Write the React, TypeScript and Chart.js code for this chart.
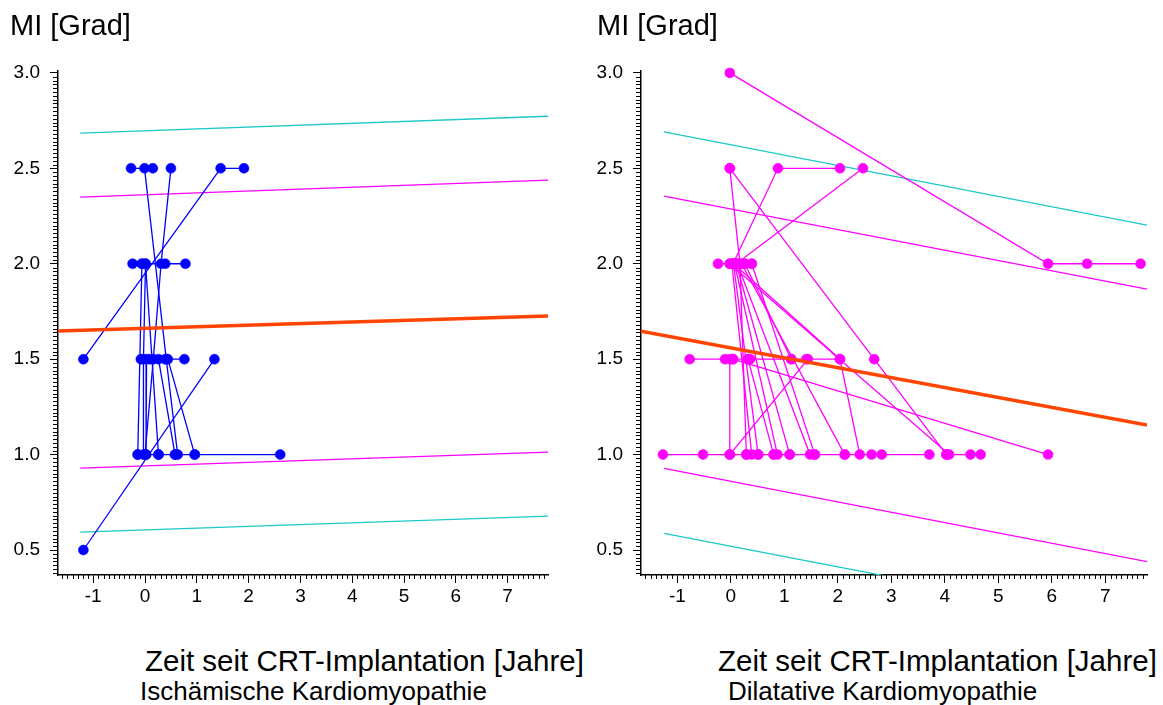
import React, { useEffect, useRef } from 'react';
import { Chart, registerables } from 'chart.js';

Chart.register(...registerables);

type P = [number, number];

const xTicks = [-1, 0, 1, 2, 3, 4, 5, 6, 7];
const yTicks = [0.5, 1.0, 1.5, 2.0, 2.5, 3.0];
const xMin = -1.68;
const xMax = 7.78;
const yMin = 0.369;
const yMax = 3.01;

const yAxisTitle = 'MI [Grad]';
const xAxisTitle = 'Zeit seit CRT-Implantation [Jahre]';
const leftGroup = 'Ischämische Kardiomyopathie';
const rightGroup = 'Dilatative Kardiomyopathie';

// Ischämische Kardiomyopathie: individual patient trajectories
const ischTrajectories: P[][] = [
  [[-0.27, 2.5], [0.15, 2.5]],
  [[-0.01, 2.5], [0.41, 1.5], [0.63, 1.0]],
  [[0.0, 1.0], [0.16, 1.5], [0.31, 2.0], [0.5, 2.5]],
  [[-1.19, 1.5], [1.46, 2.5], [1.91, 2.5]],
  [[-0.24, 2.0], [-0.06, 2.0], [0.39, 2.0], [0.78, 2.0]],
  [[-0.06, 2.0], [-0.14, 1.0]],
  [[0.01, 2.0], [-0.03, 1.5], [-0.03, 1.0]],
  [[0.01, 2.0], [0.26, 1.0]],
  [[-0.08, 1.5], [0.1, 1.5], [0.39, 1.5], [0.76, 1.5]],
  [[0.44, 1.5], [0.96, 1.0], [2.61, 1.0]],
  [[-0.14, 1.0], [0.02, 1.0], [0.26, 1.0], [0.58, 1.0], [0.96, 1.0]],
  [[-1.19, 0.5], [1.34, 1.5]],
  [[0.03, 1.5], [0.02, 1.0]],
  [[0.26, 1.5], [0.58, 1.0]],
];
const ischFit: P[] = [[-1.68, 1.647], [7.78, 1.726]];
const ischOuterUpper: P[] = [[-1.25, 2.684], [7.78, 2.773]];
const ischInnerUpper: P[] = [[-1.25, 2.349], [7.78, 2.438]];
const ischInnerLower: P[] = [[-1.25, 0.929], [7.78, 1.013]];
const ischOuterLower: P[] = [[-1.25, 0.594], [7.78, 0.678]];

// Dilatative Kardiomyopathie: individual patient trajectories
const dilTrajectories: P[][] = [
  [[-0.02, 3.0], [5.93, 2.0], [6.66, 2.0], [7.66, 2.0]],
  [[-0.02, 2.5], [2.68, 1.5], [4.03, 1.0]],
  [[0.04, 2.0], [0.88, 2.5], [2.04, 2.5]],
  [[0.1, 2.0], [2.47, 2.5]],
  [[-0.02, 2.5], [0.17, 2.0], [0.29, 1.0]],
  [[-0.24, 2.0], [-0.02, 2.0], [0.07, 2.0], [0.26, 2.0], [0.39, 2.0]],
  [[-0.02, 2.0], [4.08, 1.0]],
  [[0.02, 2.0], [0.39, 1.0]],
  [[0.05, 2.0], [0.51, 1.0]],
  [[0.07, 2.0], [0.87, 1.0]],
  [[0.1, 2.0], [1.1, 1.0]],
  [[0.12, 2.0], [1.48, 1.0]],
  [[0.2, 2.0], [2.13, 1.0]],
  [[0.26, 2.0], [1.13, 1.5]],
  [[0.05, 2.0], [2.04, 1.5], [2.41, 1.0]],
  [[0.39, 2.0], [1.57, 1.0]],
  [[-0.77, 1.5], [-0.11, 1.5], [0.04, 1.5], [0.32, 1.5], [0.36, 1.5], [1.13, 1.5], [1.41, 1.5], [2.04, 1.5]],
  [[-0.02, 1.5], [-0.02, 1.0], [1.44, 1.5]],
  [[0.04, 1.5], [5.93, 1.0]],
  [[-1.27, 1.0], [-0.52, 1.0], [-0.02, 1.0], [0.29, 1.0], [0.51, 1.0], [0.8, 1.0], [1.1, 1.0], [1.57, 1.0], [2.13, 1.0], [2.63, 1.0], [2.82, 1.0], [3.71, 1.0]],
  [[4.03, 1.0], [4.48, 1.0], [4.67, 1.0]],
  [[0.32, 1.5], [0.8, 1.0]],
];
const dilFit: P[] = [[-1.68, 1.647], [7.78, 1.155]];
const dilOuterUpper: P[] = [[-1.25, 2.691], [7.78, 2.202]];
const dilInnerUpper: P[] = [[-1.25, 2.354], [7.78, 1.867]];
const dilInnerLower: P[] = [[-1.25, 0.928], [7.78, 0.439]];
const dilOuterLower: P[] = [[-1.25, 0.587], [7.78, 0.1]];

const FONT = '"Liberation Sans", Arial, Helvetica, sans-serif';
const ORANGE = '#ff4500';
const CYAN = '#1cc8c8';
const MAGENTA = '#ff00ff';
const BLUE = '#0000ff';

const toXY = (pts: P[]) => pts.map(([x, y]) => ({ x, y }));

const minorTicks = {
  id: 'minorTicks',
  afterDraw(chart: any) {
    const { ctx, chartArea } = chart;
    const xs = chart.scales.x;
    const ys = chart.scales.y;
    ctx.save();
    ctx.strokeStyle = '#000';
    ctx.lineWidth = 1;
    ctx.beginPath();
    for (let i = Math.ceil(xMin * 10); i <= Math.floor(xMax * 10); i++) {
      if (i % 10 === 0) continue;
      const px = Math.round(xs.getPixelForValue(i / 10)) + 0.5;
      ctx.moveTo(px, chartArea.bottom);
      ctx.lineTo(px, chartArea.bottom + 4);
    }
    for (let i = Math.ceil(yMin * 50); i <= Math.floor(yMax * 50); i++) {
      if (i % 25 === 0) continue;
      const py = Math.round(ys.getPixelForValue(i / 50)) + 0.5;
      ctx.moveTo(chartArea.left - 5, py);
      ctx.lineTo(chartArea.left, py);
    }
    ctx.stroke();
    ctx.restore();
  },
};

interface PanelProps {
  trajectories: P[][];
  color: string;
  fit: P[];
  bands: { pts: P[]; color: string }[];
  left: number;
  width: number;
  yAxisWidth: number;
  padRight: number;
}

function Panel({ trajectories, color, fit, bands, left, width, yAxisWidth, padRight }: PanelProps) {
  const ref = useRef<HTMLCanvasElement | null>(null);
  useEffect(() => {
    if (!ref.current) return;
    const datasets: any[] = [];
    datasets.push({
      data: toXY(fit),
      showLine: true,
      borderColor: ORANGE,
      borderWidth: 3.5,
      pointRadius: 0,
    });
    trajectories.forEach((t) =>
      datasets.push({
        data: toXY(t),
        showLine: true,
        borderColor: color,
        borderWidth: 1.3,
        pointRadius: 5,
        pointBackgroundColor: color,
        pointBorderColor: color,
        pointBorderWidth: 0.5,
        clip: false,
      })
    );
    bands.forEach((b) =>
      datasets.push({
        data: toXY(b.pts),
        showLine: true,
        borderColor: b.color,
        borderWidth: 1.3,
        pointRadius: 0,
      })
    );
    const tickFont = { family: FONT, size: 19 };
    const chart = new Chart(ref.current, {
      type: 'scatter',
      data: { datasets },
      plugins: [minorTicks],
      options: {
        animation: false,
        responsive: false,
        events: [],
        layout: { padding: { top: 71, right: padRight, left: 0, bottom: 0 } },
        plugins: { legend: { display: false }, tooltip: { enabled: false }, title: { display: false } },
        scales: {
          x: {
            type: 'linear',
            min: xMin,
            max: xMax,
            afterBuildTicks: (s: any) => {
              s.ticks = xTicks.map((v) => ({ value: v }));
            },
            afterFit: (s: any) => {
              s.height = 45;
            },
            ticks: {
              font: tickFont,
              color: '#000',
              padding: 2,
              autoSkip: false,
              maxRotation: 0,
              callback: (v: any) => String(v),
            },
            grid: { drawOnChartArea: false, drawTicks: true, tickLength: 8, color: '#000', lineWidth: 1 },
            border: { display: true, color: '#000', width: 1.5 },
          },
          y: {
            type: 'linear',
            min: yMin,
            max: yMax,
            afterBuildTicks: (s: any) => {
              s.ticks = yTicks.map((v) => ({ value: v }));
            },
            afterFit: (s: any) => {
              s.width = yAxisWidth;
            },
            ticks: {
              font: tickFont,
              color: '#000',
              padding: 10,
              autoSkip: false,
              callback: (v: any) => Number(v).toFixed(1),
            },
            grid: { drawOnChartArea: false, drawTicks: true, tickLength: 8, color: '#000', lineWidth: 1 },
            border: { display: true, color: '#000', width: 1.5 },
          },
        },
      } as any,
    });
    return () => chart.destroy();
  }, []);
  return (
    <canvas
      ref={ref}
      width={width}
      height={620}
      style={{ position: 'absolute', left, top: 0, width, height: 620 }}
    />
  );
}

const textStyle = (left: number, baseline: number, size: number): React.CSSProperties => ({
  position: 'absolute',
  left,
  top: baseline - 0.8465 * size,
  fontFamily: FONT,
  fontSize: size,
  lineHeight: 1,
  whiteSpace: 'nowrap',
  color: '#000',
});

export default function App() {
  return (
    <div style={{ position: 'absolute', left: 0, top: 0, width: 1163, height: 705, background: '#fff', overflow: 'hidden' }}>
      <Panel
        trajectories={ischTrajectories}
        color={BLUE}
        fit={ischFit}
        bands={[
          { pts: ischOuterUpper, color: CYAN },
          { pts: ischInnerUpper, color: MAGENTA },
          { pts: ischInnerLower, color: MAGENTA },
          { pts: ischOuterLower, color: CYAN },
        ]}
        left={0}
        width={580}
        yAxisWidth={58}
        padRight={32}
      />
      <Panel
        trajectories={dilTrajectories}
        color={MAGENTA}
        fit={dilFit}
        bands={[
          { pts: dilOuterUpper, color: CYAN },
          { pts: dilInnerUpper, color: MAGENTA },
          { pts: dilInnerLower, color: MAGENTA },
          { pts: dilOuterLower, color: CYAN },
        ]}
        left={580}
        width={583}
        yAxisWidth={61}
        padRight={16}
      />
      <div style={textStyle(10, 36, 29)}>{yAxisTitle}</div>
      <div style={textStyle(597, 36, 29)}>{yAxisTitle}</div>
      <div style={textStyle(145, 671, 29.5)}>{xAxisTitle}</div>
      <div style={textStyle(140, 700, 26)}>{leftGroup}</div>
      <div style={textStyle(718, 671, 29.5)}>{xAxisTitle}</div>
      <div style={textStyle(728, 700, 26)}>{rightGroup}</div>
    </div>
  );
}
